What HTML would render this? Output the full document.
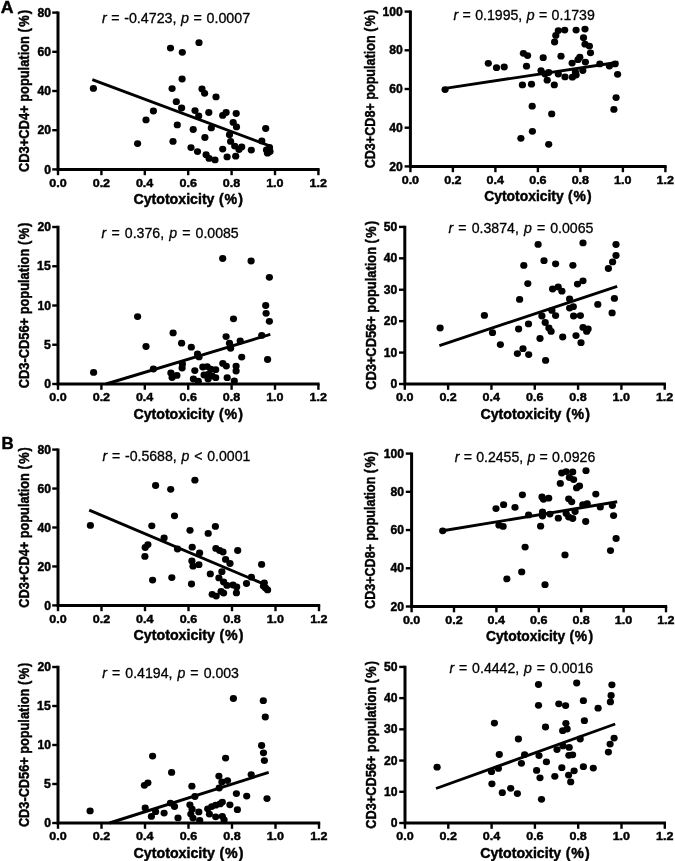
<!DOCTYPE html><html><head><meta charset="utf-8"><style>html,body{margin:0;padding:0;background:#fff;}svg{display:block;filter:grayscale(1)}</style></head><body>
<svg width="675" height="861" viewBox="0 0 675 861" font-family='"Liberation Sans", sans-serif' fill="#000">
<style>text{stroke:#000;stroke-width:0.45px}text.ann{stroke-width:0.3px}</style>
<rect width="675" height="861" fill="#fff"/>
<text transform="translate(0.77,13.40) scale(1.0366,1)" font-size="17.10" font-weight="bold">A</text>
<text transform="translate(1.42,448.50) scale(1.0310,1)" font-size="16.38" font-weight="bold">B</text>
<g id="A1">
<path d="M58.00,11.40 V169.40 H319.60" fill="none" stroke="#000" stroke-width="3.0" stroke-linejoin="miter" stroke-linecap="butt"/>
<line x1="58.00" y1="169.40" x2="58.00" y2="175.20" stroke="#000" stroke-width="2.4"/>
<line x1="101.40" y1="169.40" x2="101.40" y2="175.20" stroke="#000" stroke-width="2.4"/>
<line x1="144.80" y1="169.40" x2="144.80" y2="175.20" stroke="#000" stroke-width="2.4"/>
<line x1="188.20" y1="169.40" x2="188.20" y2="175.20" stroke="#000" stroke-width="2.4"/>
<line x1="231.60" y1="169.40" x2="231.60" y2="175.20" stroke="#000" stroke-width="2.4"/>
<line x1="275.00" y1="169.40" x2="275.00" y2="175.20" stroke="#000" stroke-width="2.4"/>
<line x1="318.40" y1="169.40" x2="318.40" y2="175.20" stroke="#000" stroke-width="2.4"/>
<line x1="58.00" y1="169.40" x2="52.20" y2="169.40" stroke="#000" stroke-width="2.4"/>
<text transform="translate(44.19,173.50) scale(1.0000,1)" font-size="12.14" font-weight="bold">0</text>
<line x1="58.00" y1="130.20" x2="52.20" y2="130.20" stroke="#000" stroke-width="2.4"/>
<text transform="translate(37.39,134.30) scale(1.0000,1)" font-size="12.14" font-weight="bold">20</text>
<line x1="58.00" y1="91.00" x2="52.20" y2="91.00" stroke="#000" stroke-width="2.4"/>
<text transform="translate(37.39,95.10) scale(1.0000,1)" font-size="12.14" font-weight="bold">40</text>
<line x1="58.00" y1="51.80" x2="52.20" y2="51.80" stroke="#000" stroke-width="2.4"/>
<text transform="translate(37.39,55.90) scale(1.0000,1)" font-size="12.14" font-weight="bold">60</text>
<line x1="58.00" y1="12.60" x2="52.20" y2="12.60" stroke="#000" stroke-width="2.4"/>
<text transform="translate(37.39,16.70) scale(1.0000,1)" font-size="12.14" font-weight="bold">80</text>
<text transform="translate(49.29,186.50) scale(1.0700,1)" font-size="11.71" font-weight="bold">0.0</text>
<text transform="translate(92.69,186.50) scale(1.0700,1)" font-size="11.71" font-weight="bold">0.2</text>
<text transform="translate(135.90,186.50) scale(1.0700,1)" font-size="11.71" font-weight="bold">0.4</text>
<text transform="translate(179.49,186.50) scale(1.0700,1)" font-size="11.71" font-weight="bold">0.6</text>
<text transform="translate(222.83,186.50) scale(1.0700,1)" font-size="11.71" font-weight="bold">0.8</text>
<text transform="translate(266.16,186.50) scale(1.0700,1)" font-size="11.71" font-weight="bold">1.0</text>
<text transform="translate(309.56,186.50) scale(1.0700,1)" font-size="11.71" font-weight="bold">1.2</text>
<text transform="translate(133.43,204.00) scale(1.0212,1)" font-size="13.89" font-weight="bold">Cytotoxicity <tspan dx="0.59">(</tspan><tspan dx="0.69">%</tspan><tspan dx="1.27">)</tspan></text>
<text transform="translate(28.90,172.02) rotate(-90) scale(0.9008,1)" font-size="14.31" font-weight="bold">CD3+CD4+ population <tspan dx="0.00">(</tspan><tspan dx="1.67">%</tspan><tspan dx="1.11">)</tspan></text>
<text class="ann" transform="translate(101.90,23.40) scale(1.0200,1)" font-size="14.00" word-spacing="0.60"><tspan font-style="italic">r</tspan> = -0.4723, <tspan font-style="italic">p</tspan> = 0.0007</text>
<line x1="92.3" y1="79.6" x2="269.6" y2="145.9" stroke="#000" stroke-width="2.9"/>
<ellipse cx="93.4" cy="88.4" rx="3.6" ry="3.4"/>
<ellipse cx="170.5" cy="48.1" rx="3.6" ry="3.4"/>
<ellipse cx="182.3" cy="52.3" rx="3.6" ry="3.4"/>
<ellipse cx="182.1" cy="79.0" rx="3.6" ry="3.4"/>
<ellipse cx="172.1" cy="88.6" rx="3.6" ry="3.4"/>
<ellipse cx="199.0" cy="42.7" rx="3.6" ry="3.4"/>
<ellipse cx="202.0" cy="88.9" rx="3.6" ry="3.4"/>
<ellipse cx="204.6" cy="93.3" rx="3.6" ry="3.4"/>
<ellipse cx="216.0" cy="96.9" rx="3.6" ry="3.4"/>
<ellipse cx="176.3" cy="101.7" rx="3.6" ry="3.4"/>
<ellipse cx="181.6" cy="108.0" rx="3.6" ry="3.4"/>
<ellipse cx="153.4" cy="111.0" rx="3.6" ry="3.4"/>
<ellipse cx="146.0" cy="119.9" rx="3.6" ry="3.4"/>
<ellipse cx="177.3" cy="124.9" rx="3.6" ry="3.4"/>
<ellipse cx="137.6" cy="143.6" rx="3.6" ry="3.4"/>
<ellipse cx="173.0" cy="141.4" rx="3.6" ry="3.4"/>
<ellipse cx="195.0" cy="110.6" rx="3.6" ry="3.4"/>
<ellipse cx="198.7" cy="116.0" rx="3.6" ry="3.4"/>
<ellipse cx="208.8" cy="112.5" rx="3.6" ry="3.4"/>
<ellipse cx="222.7" cy="115.4" rx="3.6" ry="3.4"/>
<ellipse cx="226.1" cy="112.5" rx="3.6" ry="3.4"/>
<ellipse cx="236.2" cy="113.5" rx="3.6" ry="3.4"/>
<ellipse cx="233.2" cy="122.4" rx="3.6" ry="3.4"/>
<ellipse cx="236.5" cy="126.9" rx="3.6" ry="3.4"/>
<ellipse cx="193.2" cy="129.5" rx="3.6" ry="3.4"/>
<ellipse cx="211.3" cy="127.9" rx="3.6" ry="3.4"/>
<ellipse cx="265.7" cy="128.5" rx="3.6" ry="3.4"/>
<ellipse cx="204.9" cy="137.5" rx="3.6" ry="3.4"/>
<ellipse cx="229.5" cy="134.7" rx="3.6" ry="3.4"/>
<ellipse cx="230.6" cy="141.4" rx="3.6" ry="3.4"/>
<ellipse cx="191.0" cy="147.6" rx="3.6" ry="3.4"/>
<ellipse cx="197.5" cy="151.6" rx="3.6" ry="3.4"/>
<ellipse cx="206.1" cy="154.7" rx="3.6" ry="3.4"/>
<ellipse cx="209.1" cy="158.4" rx="3.6" ry="3.4"/>
<ellipse cx="215.0" cy="159.9" rx="3.6" ry="3.4"/>
<ellipse cx="222.7" cy="149.1" rx="3.6" ry="3.4"/>
<ellipse cx="227.1" cy="156.9" rx="3.6" ry="3.4"/>
<ellipse cx="235.7" cy="156.2" rx="3.6" ry="3.4"/>
<ellipse cx="234.7" cy="146.1" rx="3.6" ry="3.4"/>
<ellipse cx="241.7" cy="146.9" rx="3.6" ry="3.4"/>
<ellipse cx="239.0" cy="149.5" rx="3.6" ry="3.4"/>
<ellipse cx="251.3" cy="150.1" rx="3.6" ry="3.4"/>
<ellipse cx="261.8" cy="140.9" rx="3.6" ry="3.4"/>
<ellipse cx="269.5" cy="147.5" rx="3.6" ry="3.4"/>
<ellipse cx="266.5" cy="150.0" rx="3.6" ry="3.4"/>
<ellipse cx="270.0" cy="151.5" rx="3.6" ry="3.4"/>
<ellipse cx="267.5" cy="153.2" rx="3.6" ry="3.4"/>
</g>
<g id="A2">
<path d="M410.40,10.40 V166.40 H666.60" fill="none" stroke="#000" stroke-width="3.0" stroke-linejoin="miter" stroke-linecap="butt"/>
<line x1="410.40" y1="166.40" x2="410.40" y2="172.20" stroke="#000" stroke-width="2.4"/>
<line x1="452.90" y1="166.40" x2="452.90" y2="172.20" stroke="#000" stroke-width="2.4"/>
<line x1="495.40" y1="166.40" x2="495.40" y2="172.20" stroke="#000" stroke-width="2.4"/>
<line x1="537.90" y1="166.40" x2="537.90" y2="172.20" stroke="#000" stroke-width="2.4"/>
<line x1="580.40" y1="166.40" x2="580.40" y2="172.20" stroke="#000" stroke-width="2.4"/>
<line x1="622.90" y1="166.40" x2="622.90" y2="172.20" stroke="#000" stroke-width="2.4"/>
<line x1="665.40" y1="166.40" x2="665.40" y2="172.20" stroke="#000" stroke-width="2.4"/>
<line x1="410.40" y1="166.40" x2="404.60" y2="166.40" stroke="#000" stroke-width="2.4"/>
<text transform="translate(389.29,170.50) scale(1.0000,1)" font-size="12.14" font-weight="bold">20</text>
<line x1="410.40" y1="127.70" x2="404.60" y2="127.70" stroke="#000" stroke-width="2.4"/>
<text transform="translate(389.29,131.80) scale(1.0000,1)" font-size="12.14" font-weight="bold">40</text>
<line x1="410.40" y1="89.00" x2="404.60" y2="89.00" stroke="#000" stroke-width="2.4"/>
<text transform="translate(389.29,93.10) scale(1.0000,1)" font-size="12.14" font-weight="bold">60</text>
<line x1="410.40" y1="50.30" x2="404.60" y2="50.30" stroke="#000" stroke-width="2.4"/>
<text transform="translate(389.29,54.40) scale(1.0000,1)" font-size="12.14" font-weight="bold">80</text>
<line x1="410.40" y1="11.60" x2="404.60" y2="11.60" stroke="#000" stroke-width="2.4"/>
<text transform="translate(382.61,15.70) scale(1.0000,1)" font-size="12.14" font-weight="bold">100</text>
<text transform="translate(401.69,183.50) scale(1.0700,1)" font-size="11.71" font-weight="bold">0.0</text>
<text transform="translate(444.19,183.50) scale(1.0700,1)" font-size="11.71" font-weight="bold">0.2</text>
<text transform="translate(486.50,183.50) scale(1.0700,1)" font-size="11.71" font-weight="bold">0.4</text>
<text transform="translate(529.19,183.50) scale(1.0700,1)" font-size="11.71" font-weight="bold">0.6</text>
<text transform="translate(571.63,183.50) scale(1.0700,1)" font-size="11.71" font-weight="bold">0.8</text>
<text transform="translate(614.06,183.50) scale(1.0700,1)" font-size="11.71" font-weight="bold">1.0</text>
<text transform="translate(656.56,183.50) scale(1.0700,1)" font-size="11.71" font-weight="bold">1.2</text>
<text transform="translate(484.27,201.00) scale(0.9995,1)" font-size="13.89" font-weight="bold">Cytotoxicity <tspan dx="0.60">(</tspan><tspan dx="0.70">%</tspan><tspan dx="1.30">)</tspan></text>
<text transform="translate(375.00,168.35) rotate(-90) scale(0.9085,1)" font-size="13.89" font-weight="bold">CD3+CD8+ population <tspan dx="0.00">(</tspan><tspan dx="1.65">%</tspan><tspan dx="1.10">)</tspan></text>
<text class="ann" transform="translate(453.41,20.20) scale(1.0200,1)" font-size="13.86" word-spacing="0.47"><tspan font-style="italic">r</tspan> = 0.1995, <tspan font-style="italic">p</tspan> = 0.1739</text>
<line x1="445.1" y1="88.4" x2="618.3" y2="62.2" stroke="#000" stroke-width="2.9"/>
<ellipse cx="445.1" cy="89.6" rx="3.6" ry="3.4"/>
<ellipse cx="488.3" cy="63.3" rx="3.6" ry="3.4"/>
<ellipse cx="496.5" cy="67.7" rx="3.6" ry="3.4"/>
<ellipse cx="504.2" cy="67.0" rx="3.6" ry="3.4"/>
<ellipse cx="523.4" cy="53.3" rx="3.6" ry="3.4"/>
<ellipse cx="527.6" cy="55.6" rx="3.6" ry="3.4"/>
<ellipse cx="526.5" cy="66.2" rx="3.6" ry="3.4"/>
<ellipse cx="522.4" cy="84.9" rx="3.6" ry="3.4"/>
<ellipse cx="531.5" cy="84.2" rx="3.6" ry="3.4"/>
<ellipse cx="558.3" cy="30.6" rx="3.6" ry="3.4"/>
<ellipse cx="564.7" cy="30.1" rx="3.6" ry="3.4"/>
<ellipse cx="555.8" cy="35.4" rx="3.6" ry="3.4"/>
<ellipse cx="554.6" cy="42.0" rx="3.6" ry="3.4"/>
<ellipse cx="576.1" cy="30.1" rx="3.6" ry="3.4"/>
<ellipse cx="585.0" cy="29.1" rx="3.6" ry="3.4"/>
<ellipse cx="583.5" cy="37.7" rx="3.6" ry="3.4"/>
<ellipse cx="585.0" cy="44.2" rx="3.6" ry="3.4"/>
<ellipse cx="589.4" cy="46.1" rx="3.6" ry="3.4"/>
<ellipse cx="590.5" cy="52.8" rx="3.6" ry="3.4"/>
<ellipse cx="543.2" cy="57.7" rx="3.6" ry="3.4"/>
<ellipse cx="561.0" cy="56.2" rx="3.6" ry="3.4"/>
<ellipse cx="579.8" cy="57.2" rx="3.6" ry="3.4"/>
<ellipse cx="578.0" cy="59.7" rx="3.6" ry="3.4"/>
<ellipse cx="572.1" cy="63.1" rx="3.6" ry="3.4"/>
<ellipse cx="585.4" cy="62.1" rx="3.6" ry="3.4"/>
<ellipse cx="599.8" cy="63.9" rx="3.6" ry="3.4"/>
<ellipse cx="609.4" cy="66.1" rx="3.6" ry="3.4"/>
<ellipse cx="615.1" cy="63.9" rx="3.6" ry="3.4"/>
<ellipse cx="617.6" cy="74.3" rx="3.6" ry="3.4"/>
<ellipse cx="541.0" cy="70.6" rx="3.6" ry="3.4"/>
<ellipse cx="545.0" cy="74.0" rx="3.6" ry="3.4"/>
<ellipse cx="548.7" cy="72.5" rx="3.6" ry="3.4"/>
<ellipse cx="547.2" cy="80.2" rx="3.6" ry="3.4"/>
<ellipse cx="554.3" cy="84.9" rx="3.6" ry="3.4"/>
<ellipse cx="558.3" cy="74.0" rx="3.6" ry="3.4"/>
<ellipse cx="565.0" cy="76.9" rx="3.6" ry="3.4"/>
<ellipse cx="572.4" cy="77.2" rx="3.6" ry="3.4"/>
<ellipse cx="576.1" cy="75.0" rx="3.6" ry="3.4"/>
<ellipse cx="575.4" cy="72.0" rx="3.6" ry="3.4"/>
<ellipse cx="582.8" cy="70.6" rx="3.6" ry="3.4"/>
<ellipse cx="532.2" cy="106.2" rx="3.6" ry="3.4"/>
<ellipse cx="532.4" cy="131.3" rx="3.6" ry="3.4"/>
<ellipse cx="520.9" cy="138.3" rx="3.6" ry="3.4"/>
<ellipse cx="551.7" cy="113.9" rx="3.6" ry="3.4"/>
<ellipse cx="548.7" cy="144.3" rx="3.6" ry="3.4"/>
<ellipse cx="616.1" cy="97.6" rx="3.6" ry="3.4"/>
<ellipse cx="613.9" cy="109.4" rx="3.6" ry="3.4"/>
</g>
<g id="A3">
<path d="M58.00,225.80 V384.00 H319.60" fill="none" stroke="#000" stroke-width="3.0" stroke-linejoin="miter" stroke-linecap="butt"/>
<line x1="58.00" y1="384.00" x2="58.00" y2="389.80" stroke="#000" stroke-width="2.4"/>
<line x1="101.40" y1="384.00" x2="101.40" y2="389.80" stroke="#000" stroke-width="2.4"/>
<line x1="144.80" y1="384.00" x2="144.80" y2="389.80" stroke="#000" stroke-width="2.4"/>
<line x1="188.20" y1="384.00" x2="188.20" y2="389.80" stroke="#000" stroke-width="2.4"/>
<line x1="231.60" y1="384.00" x2="231.60" y2="389.80" stroke="#000" stroke-width="2.4"/>
<line x1="275.00" y1="384.00" x2="275.00" y2="389.80" stroke="#000" stroke-width="2.4"/>
<line x1="318.40" y1="384.00" x2="318.40" y2="389.80" stroke="#000" stroke-width="2.4"/>
<line x1="58.00" y1="384.00" x2="52.20" y2="384.00" stroke="#000" stroke-width="2.4"/>
<text transform="translate(44.19,388.10) scale(1.0000,1)" font-size="12.14" font-weight="bold">0</text>
<line x1="58.00" y1="344.75" x2="52.20" y2="344.75" stroke="#000" stroke-width="2.4"/>
<text transform="translate(43.97,348.85) scale(1.0000,1)" font-size="12.32" font-weight="bold">5</text>
<line x1="58.00" y1="305.50" x2="52.20" y2="305.50" stroke="#000" stroke-width="2.4"/>
<text transform="translate(37.39,309.60) scale(1.0000,1)" font-size="12.14" font-weight="bold">10</text>
<line x1="58.00" y1="266.25" x2="52.20" y2="266.25" stroke="#000" stroke-width="2.4"/>
<text transform="translate(37.07,270.35) scale(1.0000,1)" font-size="12.32" font-weight="bold">15</text>
<line x1="58.00" y1="227.00" x2="52.20" y2="227.00" stroke="#000" stroke-width="2.4"/>
<text transform="translate(37.39,231.10) scale(1.0000,1)" font-size="12.14" font-weight="bold">20</text>
<text transform="translate(49.29,401.10) scale(1.0700,1)" font-size="11.71" font-weight="bold">0.0</text>
<text transform="translate(92.69,401.10) scale(1.0700,1)" font-size="11.71" font-weight="bold">0.2</text>
<text transform="translate(135.90,401.10) scale(1.0700,1)" font-size="11.71" font-weight="bold">0.4</text>
<text transform="translate(179.49,401.10) scale(1.0700,1)" font-size="11.71" font-weight="bold">0.6</text>
<text transform="translate(222.83,401.10) scale(1.0700,1)" font-size="11.71" font-weight="bold">0.8</text>
<text transform="translate(266.16,401.10) scale(1.0700,1)" font-size="11.71" font-weight="bold">1.0</text>
<text transform="translate(309.56,401.10) scale(1.0700,1)" font-size="11.71" font-weight="bold">1.2</text>
<text transform="translate(133.43,418.60) scale(1.0212,1)" font-size="13.89" font-weight="bold">Cytotoxicity <tspan dx="0.59">(</tspan><tspan dx="0.69">%</tspan><tspan dx="1.27">)</tspan></text>
<text transform="translate(28.90,388.31) rotate(-90) scale(0.8993,1)" font-size="14.31" font-weight="bold">CD3-CD56+ population <tspan dx="0.00">(</tspan><tspan dx="1.67">%</tspan><tspan dx="1.11">)</tspan></text>
<text class="ann" transform="translate(101.61,237.90) scale(1.0200,1)" font-size="13.86" word-spacing="1.17"><tspan font-style="italic">r</tspan> = 0.376, <tspan font-style="italic">p</tspan> = 0.0085</text>
<line x1="106.1" y1="384.0" x2="270.3" y2="334.4" stroke="#000" stroke-width="2.9"/>
<ellipse cx="93.6" cy="372.4" rx="3.6" ry="3.4"/>
<ellipse cx="137.6" cy="316.6" rx="3.6" ry="3.4"/>
<ellipse cx="146.0" cy="346.5" rx="3.6" ry="3.4"/>
<ellipse cx="153.4" cy="369.0" rx="3.6" ry="3.4"/>
<ellipse cx="170.9" cy="372.9" rx="3.6" ry="3.4"/>
<ellipse cx="176.9" cy="375.4" rx="3.6" ry="3.4"/>
<ellipse cx="172.1" cy="377.6" rx="3.6" ry="3.4"/>
<ellipse cx="182.4" cy="364.0" rx="3.6" ry="3.4"/>
<ellipse cx="182.1" cy="368.0" rx="3.6" ry="3.4"/>
<ellipse cx="173.1" cy="332.9" rx="3.6" ry="3.4"/>
<ellipse cx="181.6" cy="343.2" rx="3.6" ry="3.4"/>
<ellipse cx="191.3" cy="347.2" rx="3.6" ry="3.4"/>
<ellipse cx="197.5" cy="353.9" rx="3.6" ry="3.4"/>
<ellipse cx="199.0" cy="356.9" rx="3.6" ry="3.4"/>
<ellipse cx="226.1" cy="336.6" rx="3.6" ry="3.4"/>
<ellipse cx="229.5" cy="343.2" rx="3.6" ry="3.4"/>
<ellipse cx="230.6" cy="348.3" rx="3.6" ry="3.4"/>
<ellipse cx="240.2" cy="341.0" rx="3.6" ry="3.4"/>
<ellipse cx="261.7" cy="335.4" rx="3.6" ry="3.4"/>
<ellipse cx="241.7" cy="357.1" rx="3.6" ry="3.4"/>
<ellipse cx="267.6" cy="359.5" rx="3.6" ry="3.4"/>
<ellipse cx="222.7" cy="258.5" rx="3.6" ry="3.4"/>
<ellipse cx="251.1" cy="261.0" rx="3.6" ry="3.4"/>
<ellipse cx="269.4" cy="277.3" rx="3.6" ry="3.4"/>
<ellipse cx="265.7" cy="305.5" rx="3.6" ry="3.4"/>
<ellipse cx="266.1" cy="313.3" rx="3.6" ry="3.4"/>
<ellipse cx="269.4" cy="321.3" rx="3.6" ry="3.4"/>
<ellipse cx="233.5" cy="318.8" rx="3.6" ry="3.4"/>
<ellipse cx="194.8" cy="370.6" rx="3.6" ry="3.4"/>
<ellipse cx="193.4" cy="379.0" rx="3.6" ry="3.4"/>
<ellipse cx="198.3" cy="381.2" rx="3.6" ry="3.4"/>
<ellipse cx="202.8" cy="367.0" rx="3.6" ry="3.4"/>
<ellipse cx="207.2" cy="366.6" rx="3.6" ry="3.4"/>
<ellipse cx="210.8" cy="369.2" rx="3.6" ry="3.4"/>
<ellipse cx="215.7" cy="369.7" rx="3.6" ry="3.4"/>
<ellipse cx="204.1" cy="375.0" rx="3.6" ry="3.4"/>
<ellipse cx="208.6" cy="374.1" rx="3.6" ry="3.4"/>
<ellipse cx="208.1" cy="379.0" rx="3.6" ry="3.4"/>
<ellipse cx="212.1" cy="375.9" rx="3.6" ry="3.4"/>
<ellipse cx="215.7" cy="377.7" rx="3.6" ry="3.4"/>
<ellipse cx="222.8" cy="363.4" rx="3.6" ry="3.4"/>
<ellipse cx="226.3" cy="366.1" rx="3.6" ry="3.4"/>
<ellipse cx="227.2" cy="377.7" rx="3.6" ry="3.4"/>
<ellipse cx="236.1" cy="366.1" rx="3.6" ry="3.4"/>
<ellipse cx="236.1" cy="371.0" rx="3.6" ry="3.4"/>
<ellipse cx="234.3" cy="380.8" rx="3.6" ry="3.4"/>
</g>
<g id="A4">
<path d="M404.80,225.70 V384.00 H665.92" fill="none" stroke="#000" stroke-width="3.0" stroke-linejoin="miter" stroke-linecap="butt"/>
<line x1="404.80" y1="384.00" x2="404.80" y2="389.80" stroke="#000" stroke-width="2.4"/>
<line x1="448.12" y1="384.00" x2="448.12" y2="389.80" stroke="#000" stroke-width="2.4"/>
<line x1="491.44" y1="384.00" x2="491.44" y2="389.80" stroke="#000" stroke-width="2.4"/>
<line x1="534.76" y1="384.00" x2="534.76" y2="389.80" stroke="#000" stroke-width="2.4"/>
<line x1="578.08" y1="384.00" x2="578.08" y2="389.80" stroke="#000" stroke-width="2.4"/>
<line x1="621.40" y1="384.00" x2="621.40" y2="389.80" stroke="#000" stroke-width="2.4"/>
<line x1="664.72" y1="384.00" x2="664.72" y2="389.80" stroke="#000" stroke-width="2.4"/>
<line x1="404.80" y1="384.00" x2="399.00" y2="384.00" stroke="#000" stroke-width="2.4"/>
<text transform="translate(390.49,388.10) scale(1.0000,1)" font-size="12.14" font-weight="bold">0</text>
<line x1="404.80" y1="352.58" x2="399.00" y2="352.58" stroke="#000" stroke-width="2.4"/>
<text transform="translate(383.69,356.68) scale(1.0000,1)" font-size="12.14" font-weight="bold">10</text>
<line x1="404.80" y1="321.16" x2="399.00" y2="321.16" stroke="#000" stroke-width="2.4"/>
<text transform="translate(383.69,325.26) scale(1.0000,1)" font-size="12.14" font-weight="bold">20</text>
<line x1="404.80" y1="289.74" x2="399.00" y2="289.74" stroke="#000" stroke-width="2.4"/>
<text transform="translate(383.69,293.84) scale(1.0000,1)" font-size="12.14" font-weight="bold">30</text>
<line x1="404.80" y1="258.32" x2="399.00" y2="258.32" stroke="#000" stroke-width="2.4"/>
<text transform="translate(383.69,262.42) scale(1.0000,1)" font-size="12.14" font-weight="bold">40</text>
<line x1="404.80" y1="226.90" x2="399.00" y2="226.90" stroke="#000" stroke-width="2.4"/>
<text transform="translate(383.69,231.00) scale(1.0000,1)" font-size="12.14" font-weight="bold">50</text>
<text transform="translate(396.09,401.10) scale(1.0700,1)" font-size="11.71" font-weight="bold">0.0</text>
<text transform="translate(439.41,401.10) scale(1.0700,1)" font-size="11.71" font-weight="bold">0.2</text>
<text transform="translate(482.54,401.10) scale(1.0700,1)" font-size="11.71" font-weight="bold">0.4</text>
<text transform="translate(526.05,401.10) scale(1.0700,1)" font-size="11.71" font-weight="bold">0.6</text>
<text transform="translate(569.31,401.10) scale(1.0700,1)" font-size="11.71" font-weight="bold">0.8</text>
<text transform="translate(612.56,401.10) scale(1.0700,1)" font-size="11.71" font-weight="bold">1.0</text>
<text transform="translate(655.88,401.10) scale(1.0700,1)" font-size="11.71" font-weight="bold">1.2</text>
<text transform="translate(480.49,418.60) scale(1.0192,1)" font-size="13.89" font-weight="bold">Cytotoxicity <tspan dx="0.59">(</tspan><tspan dx="0.69">%</tspan><tspan dx="1.28">)</tspan></text>
<text transform="translate(375.60,389.86) rotate(-90) scale(0.8992,1)" font-size="14.31" font-weight="bold">CD3+CD56+ population <tspan dx="0.00">(</tspan><tspan dx="1.67">%</tspan><tspan dx="1.11">)</tspan></text>
<text class="ann" transform="translate(448.51,232.50) scale(1.0200,1)" font-size="13.86" word-spacing="1.16"><tspan font-style="italic">r</tspan> = 0.3874, <tspan font-style="italic">p</tspan> = 0.0065</text>
<line x1="439.4" y1="345.6" x2="617.2" y2="286.3" stroke="#000" stroke-width="2.9"/>
<ellipse cx="440.1" cy="328.0" rx="3.6" ry="3.4"/>
<ellipse cx="484.4" cy="315.4" rx="3.6" ry="3.4"/>
<ellipse cx="492.5" cy="332.7" rx="3.6" ry="3.4"/>
<ellipse cx="500.4" cy="344.6" rx="3.6" ry="3.4"/>
<ellipse cx="518.6" cy="329.0" rx="3.6" ry="3.4"/>
<ellipse cx="523.0" cy="348.7" rx="3.6" ry="3.4"/>
<ellipse cx="517.4" cy="353.6" rx="3.6" ry="3.4"/>
<ellipse cx="528.7" cy="354.6" rx="3.6" ry="3.4"/>
<ellipse cx="523.8" cy="265.4" rx="3.6" ry="3.4"/>
<ellipse cx="527.8" cy="283.6" rx="3.6" ry="3.4"/>
<ellipse cx="519.6" cy="299.4" rx="3.6" ry="3.4"/>
<ellipse cx="528.5" cy="323.9" rx="3.6" ry="3.4"/>
<ellipse cx="538.1" cy="244.4" rx="3.6" ry="3.4"/>
<ellipse cx="583.0" cy="242.9" rx="3.6" ry="3.4"/>
<ellipse cx="616.0" cy="244.5" rx="3.6" ry="3.4"/>
<ellipse cx="616.0" cy="255.5" rx="3.6" ry="3.4"/>
<ellipse cx="612.6" cy="261.9" rx="3.6" ry="3.4"/>
<ellipse cx="608.4" cy="268.5" rx="3.6" ry="3.4"/>
<ellipse cx="544.0" cy="260.7" rx="3.6" ry="3.4"/>
<ellipse cx="555.6" cy="263.8" rx="3.6" ry="3.4"/>
<ellipse cx="572.9" cy="265.3" rx="3.6" ry="3.4"/>
<ellipse cx="552.6" cy="289.0" rx="3.6" ry="3.4"/>
<ellipse cx="558.2" cy="287.0" rx="3.6" ry="3.4"/>
<ellipse cx="561.9" cy="291.2" rx="3.6" ry="3.4"/>
<ellipse cx="577.5" cy="284.1" rx="3.6" ry="3.4"/>
<ellipse cx="583.0" cy="280.8" rx="3.6" ry="3.4"/>
<ellipse cx="569.6" cy="298.9" rx="3.6" ry="3.4"/>
<ellipse cx="597.8" cy="304.4" rx="3.6" ry="3.4"/>
<ellipse cx="614.4" cy="298.4" rx="3.6" ry="3.4"/>
<ellipse cx="612.1" cy="312.9" rx="3.6" ry="3.4"/>
<ellipse cx="569.6" cy="308.1" rx="3.6" ry="3.4"/>
<ellipse cx="573.3" cy="306.7" rx="3.6" ry="3.4"/>
<ellipse cx="551.9" cy="310.4" rx="3.6" ry="3.4"/>
<ellipse cx="555.6" cy="315.6" rx="3.6" ry="3.4"/>
<ellipse cx="541.9" cy="316.0" rx="3.6" ry="3.4"/>
<ellipse cx="545.2" cy="322.5" rx="3.6" ry="3.4"/>
<ellipse cx="548.9" cy="327.9" rx="3.6" ry="3.4"/>
<ellipse cx="551.1" cy="331.4" rx="3.6" ry="3.4"/>
<ellipse cx="573.6" cy="316.0" rx="3.6" ry="3.4"/>
<ellipse cx="580.4" cy="315.6" rx="3.6" ry="3.4"/>
<ellipse cx="583.0" cy="327.4" rx="3.6" ry="3.4"/>
<ellipse cx="588.1" cy="328.9" rx="3.6" ry="3.4"/>
<ellipse cx="586.7" cy="331.4" rx="3.6" ry="3.4"/>
<ellipse cx="540.0" cy="338.5" rx="3.6" ry="3.4"/>
<ellipse cx="562.7" cy="337.0" rx="3.6" ry="3.4"/>
<ellipse cx="576.0" cy="335.6" rx="3.6" ry="3.4"/>
<ellipse cx="581.0" cy="342.7" rx="3.6" ry="3.4"/>
<ellipse cx="545.6" cy="360.4" rx="3.6" ry="3.4"/>
</g>
<g id="B1">
<path d="M58.00,448.40 V605.40 H320.20" fill="none" stroke="#000" stroke-width="3.0" stroke-linejoin="miter" stroke-linecap="butt"/>
<line x1="58.00" y1="605.40" x2="58.00" y2="611.20" stroke="#000" stroke-width="2.4"/>
<line x1="101.50" y1="605.40" x2="101.50" y2="611.20" stroke="#000" stroke-width="2.4"/>
<line x1="145.00" y1="605.40" x2="145.00" y2="611.20" stroke="#000" stroke-width="2.4"/>
<line x1="188.50" y1="605.40" x2="188.50" y2="611.20" stroke="#000" stroke-width="2.4"/>
<line x1="232.00" y1="605.40" x2="232.00" y2="611.20" stroke="#000" stroke-width="2.4"/>
<line x1="275.50" y1="605.40" x2="275.50" y2="611.20" stroke="#000" stroke-width="2.4"/>
<line x1="319.00" y1="605.40" x2="319.00" y2="611.20" stroke="#000" stroke-width="2.4"/>
<line x1="58.00" y1="605.40" x2="52.20" y2="605.40" stroke="#000" stroke-width="2.4"/>
<text transform="translate(44.19,609.50) scale(1.0000,1)" font-size="12.14" font-weight="bold">0</text>
<line x1="58.00" y1="566.45" x2="52.20" y2="566.45" stroke="#000" stroke-width="2.4"/>
<text transform="translate(37.39,570.55) scale(1.0000,1)" font-size="12.14" font-weight="bold">20</text>
<line x1="58.00" y1="527.50" x2="52.20" y2="527.50" stroke="#000" stroke-width="2.4"/>
<text transform="translate(37.39,531.60) scale(1.0000,1)" font-size="12.14" font-weight="bold">40</text>
<line x1="58.00" y1="488.55" x2="52.20" y2="488.55" stroke="#000" stroke-width="2.4"/>
<text transform="translate(37.39,492.65) scale(1.0000,1)" font-size="12.14" font-weight="bold">60</text>
<line x1="58.00" y1="449.60" x2="52.20" y2="449.60" stroke="#000" stroke-width="2.4"/>
<text transform="translate(37.39,453.70) scale(1.0000,1)" font-size="12.14" font-weight="bold">80</text>
<text transform="translate(49.29,622.50) scale(1.0700,1)" font-size="11.71" font-weight="bold">0.0</text>
<text transform="translate(92.79,622.50) scale(1.0700,1)" font-size="11.71" font-weight="bold">0.2</text>
<text transform="translate(136.10,622.50) scale(1.0700,1)" font-size="11.71" font-weight="bold">0.4</text>
<text transform="translate(179.79,622.50) scale(1.0700,1)" font-size="11.71" font-weight="bold">0.6</text>
<text transform="translate(223.23,622.50) scale(1.0700,1)" font-size="11.71" font-weight="bold">0.8</text>
<text transform="translate(266.66,622.50) scale(1.0700,1)" font-size="11.71" font-weight="bold">1.0</text>
<text transform="translate(310.16,622.50) scale(1.0700,1)" font-size="11.71" font-weight="bold">1.2</text>
<text transform="translate(133.60,640.00) scale(1.0236,1)" font-size="13.89" font-weight="bold">Cytotoxicity <tspan dx="0.59">(</tspan><tspan dx="0.68">%</tspan><tspan dx="1.27">)</tspan></text>
<text transform="translate(28.90,607.76) rotate(-90) scale(0.8923,1)" font-size="14.31" font-weight="bold">CD3+CD4+ population <tspan dx="0.00">(</tspan><tspan dx="1.68">%</tspan><tspan dx="1.12">)</tspan></text>
<text class="ann" transform="translate(102.41,460.80) scale(1.0200,1)" font-size="13.86" word-spacing="0.84"><tspan font-style="italic">r</tspan> = -0.5688, <tspan font-style="italic">p</tspan> < 0.0001</text>
<line x1="89.2" y1="510.1" x2="266.5" y2="585.2" stroke="#000" stroke-width="2.9"/>
<ellipse cx="90.4" cy="525.4" rx="3.6" ry="3.4"/>
<ellipse cx="155.6" cy="485.5" rx="3.6" ry="3.4"/>
<ellipse cx="170.7" cy="489.3" rx="3.6" ry="3.4"/>
<ellipse cx="174.5" cy="515.8" rx="3.6" ry="3.4"/>
<ellipse cx="151.8" cy="525.8" rx="3.6" ry="3.4"/>
<ellipse cx="164.1" cy="537.9" rx="3.6" ry="3.4"/>
<ellipse cx="194.9" cy="480.2" rx="3.6" ry="3.4"/>
<ellipse cx="190.0" cy="530.3" rx="3.6" ry="3.4"/>
<ellipse cx="208.2" cy="533.4" rx="3.6" ry="3.4"/>
<ellipse cx="215.4" cy="526.4" rx="3.6" ry="3.4"/>
<ellipse cx="177.5" cy="549.0" rx="3.6" ry="3.4"/>
<ellipse cx="147.9" cy="544.6" rx="3.6" ry="3.4"/>
<ellipse cx="145.2" cy="547.5" rx="3.6" ry="3.4"/>
<ellipse cx="144.9" cy="556.4" rx="3.6" ry="3.4"/>
<ellipse cx="152.6" cy="580.1" rx="3.6" ry="3.4"/>
<ellipse cx="171.8" cy="577.6" rx="3.6" ry="3.4"/>
<ellipse cx="192.2" cy="547.2" rx="3.6" ry="3.4"/>
<ellipse cx="199.6" cy="552.9" rx="3.6" ry="3.4"/>
<ellipse cx="191.9" cy="560.9" rx="3.6" ry="3.4"/>
<ellipse cx="193.0" cy="566.2" rx="3.6" ry="3.4"/>
<ellipse cx="198.9" cy="564.7" rx="3.6" ry="3.4"/>
<ellipse cx="215.9" cy="548.4" rx="3.6" ry="3.4"/>
<ellipse cx="219.6" cy="550.5" rx="3.6" ry="3.4"/>
<ellipse cx="223.0" cy="552.0" rx="3.6" ry="3.4"/>
<ellipse cx="237.7" cy="550.5" rx="3.6" ry="3.4"/>
<ellipse cx="225.6" cy="559.4" rx="3.6" ry="3.4"/>
<ellipse cx="230.0" cy="563.5" rx="3.6" ry="3.4"/>
<ellipse cx="261.6" cy="564.4" rx="3.6" ry="3.4"/>
<ellipse cx="221.9" cy="571.7" rx="3.6" ry="3.4"/>
<ellipse cx="210.3" cy="573.9" rx="3.6" ry="3.4"/>
<ellipse cx="218.9" cy="577.9" rx="3.6" ry="3.4"/>
<ellipse cx="191.5" cy="584.0" rx="3.6" ry="3.4"/>
<ellipse cx="223.6" cy="582.0" rx="3.6" ry="3.4"/>
<ellipse cx="227.0" cy="585.4" rx="3.6" ry="3.4"/>
<ellipse cx="233.0" cy="585.0" rx="3.6" ry="3.4"/>
<ellipse cx="236.7" cy="586.9" rx="3.6" ry="3.4"/>
<ellipse cx="236.4" cy="592.9" rx="3.6" ry="3.4"/>
<ellipse cx="246.5" cy="583.5" rx="3.6" ry="3.4"/>
<ellipse cx="251.4" cy="577.2" rx="3.6" ry="3.4"/>
<ellipse cx="221.1" cy="591.4" rx="3.6" ry="3.4"/>
<ellipse cx="223.6" cy="593.1" rx="3.6" ry="3.4"/>
<ellipse cx="212.2" cy="594.3" rx="3.6" ry="3.4"/>
<ellipse cx="216.2" cy="596.1" rx="3.6" ry="3.4"/>
<ellipse cx="264.3" cy="582.8" rx="3.6" ry="3.4"/>
<ellipse cx="263.4" cy="586.1" rx="3.6" ry="3.4"/>
<ellipse cx="265.5" cy="587.9" rx="3.6" ry="3.4"/>
<ellipse cx="267.6" cy="589.9" rx="3.6" ry="3.4"/>
</g>
<g id="B2">
<path d="M411.60,452.40 V606.50 H667.20" fill="none" stroke="#000" stroke-width="3.0" stroke-linejoin="miter" stroke-linecap="butt"/>
<line x1="411.60" y1="606.50" x2="411.60" y2="612.30" stroke="#000" stroke-width="2.4"/>
<line x1="454.00" y1="606.50" x2="454.00" y2="612.30" stroke="#000" stroke-width="2.4"/>
<line x1="496.40" y1="606.50" x2="496.40" y2="612.30" stroke="#000" stroke-width="2.4"/>
<line x1="538.80" y1="606.50" x2="538.80" y2="612.30" stroke="#000" stroke-width="2.4"/>
<line x1="581.20" y1="606.50" x2="581.20" y2="612.30" stroke="#000" stroke-width="2.4"/>
<line x1="623.60" y1="606.50" x2="623.60" y2="612.30" stroke="#000" stroke-width="2.4"/>
<line x1="666.00" y1="606.50" x2="666.00" y2="612.30" stroke="#000" stroke-width="2.4"/>
<line x1="411.60" y1="606.50" x2="405.80" y2="606.50" stroke="#000" stroke-width="2.4"/>
<text transform="translate(390.49,610.60) scale(1.0000,1)" font-size="12.14" font-weight="bold">20</text>
<line x1="411.60" y1="568.27" x2="405.80" y2="568.27" stroke="#000" stroke-width="2.4"/>
<text transform="translate(390.49,572.38) scale(1.0000,1)" font-size="12.14" font-weight="bold">40</text>
<line x1="411.60" y1="530.05" x2="405.80" y2="530.05" stroke="#000" stroke-width="2.4"/>
<text transform="translate(390.49,534.15) scale(1.0000,1)" font-size="12.14" font-weight="bold">60</text>
<line x1="411.60" y1="491.83" x2="405.80" y2="491.83" stroke="#000" stroke-width="2.4"/>
<text transform="translate(390.49,495.93) scale(1.0000,1)" font-size="12.14" font-weight="bold">80</text>
<line x1="411.60" y1="453.60" x2="405.80" y2="453.60" stroke="#000" stroke-width="2.4"/>
<text transform="translate(383.81,457.70) scale(1.0000,1)" font-size="12.14" font-weight="bold">100</text>
<text transform="translate(402.89,623.60) scale(1.0700,1)" font-size="11.71" font-weight="bold">0.0</text>
<text transform="translate(445.29,623.60) scale(1.0700,1)" font-size="11.71" font-weight="bold">0.2</text>
<text transform="translate(487.50,623.60) scale(1.0700,1)" font-size="11.71" font-weight="bold">0.4</text>
<text transform="translate(530.09,623.60) scale(1.0700,1)" font-size="11.71" font-weight="bold">0.6</text>
<text transform="translate(572.43,623.60) scale(1.0700,1)" font-size="11.71" font-weight="bold">0.8</text>
<text transform="translate(614.76,623.60) scale(1.0700,1)" font-size="11.71" font-weight="bold">1.0</text>
<text transform="translate(657.16,623.60) scale(1.0700,1)" font-size="11.71" font-weight="bold">1.2</text>
<text transform="translate(485.89,641.10) scale(0.9971,1)" font-size="13.89" font-weight="bold">Cytotoxicity <tspan dx="0.60">(</tspan><tspan dx="0.70">%</tspan><tspan dx="1.30">)</tspan></text>
<text transform="translate(375.00,608.80) rotate(-90) scale(0.9015,1)" font-size="13.89" font-weight="bold">CD3+CD8+ population <tspan dx="0.00">(</tspan><tspan dx="1.66">%</tspan><tspan dx="1.11">)</tspan></text>
<text class="ann" transform="translate(454.71,461.50) scale(1.0200,1)" font-size="13.86" word-spacing="0.30"><tspan font-style="italic">r</tspan> = 0.2455, <tspan font-style="italic">p</tspan> = 0.0926</text>
<line x1="442.7" y1="530.8" x2="617.2" y2="501.8" stroke="#000" stroke-width="2.9"/>
<ellipse cx="442.7" cy="530.8" rx="3.6" ry="3.4"/>
<ellipse cx="496.0" cy="508.6" rx="3.6" ry="3.4"/>
<ellipse cx="503.6" cy="504.7" rx="3.6" ry="3.4"/>
<ellipse cx="515.0" cy="507.4" rx="3.6" ry="3.4"/>
<ellipse cx="522.4" cy="494.8" rx="3.6" ry="3.4"/>
<ellipse cx="528.6" cy="514.9" rx="3.6" ry="3.4"/>
<ellipse cx="499.0" cy="525.2" rx="3.6" ry="3.4"/>
<ellipse cx="503.1" cy="526.4" rx="3.6" ry="3.4"/>
<ellipse cx="561.7" cy="473.0" rx="3.6" ry="3.4"/>
<ellipse cx="566.2" cy="471.6" rx="3.6" ry="3.4"/>
<ellipse cx="572.7" cy="471.9" rx="3.6" ry="3.4"/>
<ellipse cx="586.0" cy="470.7" rx="3.6" ry="3.4"/>
<ellipse cx="569.4" cy="477.5" rx="3.6" ry="3.4"/>
<ellipse cx="573.6" cy="479.6" rx="3.6" ry="3.4"/>
<ellipse cx="560.3" cy="483.4" rx="3.6" ry="3.4"/>
<ellipse cx="576.6" cy="487.9" rx="3.6" ry="3.4"/>
<ellipse cx="579.5" cy="485.9" rx="3.6" ry="3.4"/>
<ellipse cx="595.8" cy="494.1" rx="3.6" ry="3.4"/>
<ellipse cx="542.0" cy="497.0" rx="3.6" ry="3.4"/>
<ellipse cx="543.5" cy="499.3" rx="3.6" ry="3.4"/>
<ellipse cx="548.7" cy="498.2" rx="3.6" ry="3.4"/>
<ellipse cx="568.7" cy="498.8" rx="3.6" ry="3.4"/>
<ellipse cx="571.7" cy="501.8" rx="3.6" ry="3.4"/>
<ellipse cx="582.8" cy="504.7" rx="3.6" ry="3.4"/>
<ellipse cx="587.2" cy="503.7" rx="3.6" ry="3.4"/>
<ellipse cx="600.3" cy="507.1" rx="3.6" ry="3.4"/>
<ellipse cx="612.4" cy="505.6" rx="3.6" ry="3.4"/>
<ellipse cx="613.6" cy="515.6" rx="3.6" ry="3.4"/>
<ellipse cx="542.5" cy="511.9" rx="3.6" ry="3.4"/>
<ellipse cx="542.5" cy="516.0" rx="3.6" ry="3.4"/>
<ellipse cx="549.9" cy="514.1" rx="3.6" ry="3.4"/>
<ellipse cx="558.3" cy="518.2" rx="3.6" ry="3.4"/>
<ellipse cx="566.2" cy="513.6" rx="3.6" ry="3.4"/>
<ellipse cx="568.7" cy="517.0" rx="3.6" ry="3.4"/>
<ellipse cx="572.7" cy="518.5" rx="3.6" ry="3.4"/>
<ellipse cx="575.1" cy="511.6" rx="3.6" ry="3.4"/>
<ellipse cx="585.7" cy="521.5" rx="3.6" ry="3.4"/>
<ellipse cx="540.6" cy="526.2" rx="3.6" ry="3.4"/>
<ellipse cx="525.1" cy="547.1" rx="3.6" ry="3.4"/>
<ellipse cx="521.7" cy="571.9" rx="3.6" ry="3.4"/>
<ellipse cx="506.9" cy="578.9" rx="3.6" ry="3.4"/>
<ellipse cx="565.0" cy="554.9" rx="3.6" ry="3.4"/>
<ellipse cx="616.1" cy="538.5" rx="3.6" ry="3.4"/>
<ellipse cx="610.5" cy="550.6" rx="3.6" ry="3.4"/>
<ellipse cx="545.0" cy="584.7" rx="3.6" ry="3.4"/>
</g>
<g id="B3">
<path d="M58.00,665.80 V823.00 H320.20" fill="none" stroke="#000" stroke-width="3.0" stroke-linejoin="miter" stroke-linecap="butt"/>
<line x1="58.00" y1="823.00" x2="58.00" y2="828.80" stroke="#000" stroke-width="2.4"/>
<line x1="101.50" y1="823.00" x2="101.50" y2="828.80" stroke="#000" stroke-width="2.4"/>
<line x1="145.00" y1="823.00" x2="145.00" y2="828.80" stroke="#000" stroke-width="2.4"/>
<line x1="188.50" y1="823.00" x2="188.50" y2="828.80" stroke="#000" stroke-width="2.4"/>
<line x1="232.00" y1="823.00" x2="232.00" y2="828.80" stroke="#000" stroke-width="2.4"/>
<line x1="275.50" y1="823.00" x2="275.50" y2="828.80" stroke="#000" stroke-width="2.4"/>
<line x1="319.00" y1="823.00" x2="319.00" y2="828.80" stroke="#000" stroke-width="2.4"/>
<line x1="58.00" y1="823.00" x2="52.20" y2="823.00" stroke="#000" stroke-width="2.4"/>
<text transform="translate(44.19,827.10) scale(1.0000,1)" font-size="12.14" font-weight="bold">0</text>
<line x1="58.00" y1="784.00" x2="52.20" y2="784.00" stroke="#000" stroke-width="2.4"/>
<text transform="translate(43.97,788.10) scale(1.0000,1)" font-size="12.32" font-weight="bold">5</text>
<line x1="58.00" y1="745.00" x2="52.20" y2="745.00" stroke="#000" stroke-width="2.4"/>
<text transform="translate(37.39,749.10) scale(1.0000,1)" font-size="12.14" font-weight="bold">10</text>
<line x1="58.00" y1="706.00" x2="52.20" y2="706.00" stroke="#000" stroke-width="2.4"/>
<text transform="translate(37.07,710.10) scale(1.0000,1)" font-size="12.32" font-weight="bold">15</text>
<line x1="58.00" y1="667.00" x2="52.20" y2="667.00" stroke="#000" stroke-width="2.4"/>
<text transform="translate(37.39,671.10) scale(1.0000,1)" font-size="12.14" font-weight="bold">20</text>
<text transform="translate(49.29,840.10) scale(1.0700,1)" font-size="11.71" font-weight="bold">0.0</text>
<text transform="translate(92.79,840.10) scale(1.0700,1)" font-size="11.71" font-weight="bold">0.2</text>
<text transform="translate(136.10,840.10) scale(1.0700,1)" font-size="11.71" font-weight="bold">0.4</text>
<text transform="translate(179.79,840.10) scale(1.0700,1)" font-size="11.71" font-weight="bold">0.6</text>
<text transform="translate(223.23,840.10) scale(1.0700,1)" font-size="11.71" font-weight="bold">0.8</text>
<text transform="translate(266.66,840.10) scale(1.0700,1)" font-size="11.71" font-weight="bold">1.0</text>
<text transform="translate(310.16,840.10) scale(1.0700,1)" font-size="11.71" font-weight="bold">1.2</text>
<text transform="translate(133.60,857.60) scale(1.0236,1)" font-size="13.89" font-weight="bold">Cytotoxicity <tspan dx="0.59">(</tspan><tspan dx="0.68">%</tspan><tspan dx="1.27">)</tspan></text>
<text transform="translate(28.90,827.11) rotate(-90) scale(0.8915,1)" font-size="14.31" font-weight="bold">CD3-CD56+ population <tspan dx="0.00">(</tspan><tspan dx="1.68">%</tspan><tspan dx="1.12">)</tspan></text>
<text class="ann" transform="translate(102.31,678.00) scale(1.0200,1)" font-size="13.86" word-spacing="1.08"><tspan font-style="italic">r</tspan> = 0.4194, <tspan font-style="italic">p</tspan> = 0.003</text>
<line x1="109.5" y1="823.0" x2="268.7" y2="772.4" stroke="#000" stroke-width="2.9"/>
<ellipse cx="90.1" cy="810.9" rx="3.6" ry="3.4"/>
<ellipse cx="152.6" cy="756.1" rx="3.6" ry="3.4"/>
<ellipse cx="171.6" cy="772.4" rx="3.6" ry="3.4"/>
<ellipse cx="147.9" cy="782.8" rx="3.6" ry="3.4"/>
<ellipse cx="144.4" cy="785.3" rx="3.6" ry="3.4"/>
<ellipse cx="145.2" cy="808.0" rx="3.6" ry="3.4"/>
<ellipse cx="155.6" cy="811.7" rx="3.6" ry="3.4"/>
<ellipse cx="151.4" cy="816.4" rx="3.6" ry="3.4"/>
<ellipse cx="164.1" cy="813.1" rx="3.6" ry="3.4"/>
<ellipse cx="170.4" cy="803.1" rx="3.6" ry="3.4"/>
<ellipse cx="174.5" cy="806.5" rx="3.6" ry="3.4"/>
<ellipse cx="178.0" cy="817.9" rx="3.6" ry="3.4"/>
<ellipse cx="233.4" cy="698.5" rx="3.6" ry="3.4"/>
<ellipse cx="263.3" cy="700.7" rx="3.6" ry="3.4"/>
<ellipse cx="265.3" cy="717.0" rx="3.6" ry="3.4"/>
<ellipse cx="261.6" cy="745.5" rx="3.6" ry="3.4"/>
<ellipse cx="263.5" cy="752.8" rx="3.6" ry="3.4"/>
<ellipse cx="264.4" cy="760.6" rx="3.6" ry="3.4"/>
<ellipse cx="225.6" cy="758.1" rx="3.6" ry="3.4"/>
<ellipse cx="218.9" cy="776.1" rx="3.6" ry="3.4"/>
<ellipse cx="221.9" cy="782.0" rx="3.6" ry="3.4"/>
<ellipse cx="227.5" cy="780.6" rx="3.6" ry="3.4"/>
<ellipse cx="219.2" cy="788.0" rx="3.6" ry="3.4"/>
<ellipse cx="251.2" cy="774.6" rx="3.6" ry="3.4"/>
<ellipse cx="191.9" cy="786.2" rx="3.6" ry="3.4"/>
<ellipse cx="194.9" cy="796.5" rx="3.6" ry="3.4"/>
<ellipse cx="236.4" cy="793.6" rx="3.6" ry="3.4"/>
<ellipse cx="246.7" cy="796.1" rx="3.6" ry="3.4"/>
<ellipse cx="267.0" cy="798.6" rx="3.6" ry="3.4"/>
<ellipse cx="189.9" cy="804.8" rx="3.6" ry="3.4"/>
<ellipse cx="192.1" cy="809.2" rx="3.6" ry="3.4"/>
<ellipse cx="190.8" cy="814.1" rx="3.6" ry="3.4"/>
<ellipse cx="193.0" cy="818.1" rx="3.6" ry="3.4"/>
<ellipse cx="198.8" cy="811.9" rx="3.6" ry="3.4"/>
<ellipse cx="199.7" cy="820.3" rx="3.6" ry="3.4"/>
<ellipse cx="207.7" cy="808.8" rx="3.6" ry="3.4"/>
<ellipse cx="211.7" cy="806.6" rx="3.6" ry="3.4"/>
<ellipse cx="215.7" cy="805.2" rx="3.6" ry="3.4"/>
<ellipse cx="220.1" cy="803.9" rx="3.6" ry="3.4"/>
<ellipse cx="222.3" cy="802.1" rx="3.6" ry="3.4"/>
<ellipse cx="229.9" cy="804.8" rx="3.6" ry="3.4"/>
<ellipse cx="237.4" cy="809.7" rx="3.6" ry="3.4"/>
<ellipse cx="209.4" cy="814.1" rx="3.6" ry="3.4"/>
<ellipse cx="215.7" cy="816.8" rx="3.6" ry="3.4"/>
<ellipse cx="222.3" cy="816.3" rx="3.6" ry="3.4"/>
<ellipse cx="224.1" cy="819.9" rx="3.6" ry="3.4"/>
</g>
<g id="B4">
<path d="M405.00,665.70 V823.00 H666.00" fill="none" stroke="#000" stroke-width="3.0" stroke-linejoin="miter" stroke-linecap="butt"/>
<line x1="405.00" y1="823.00" x2="405.00" y2="828.80" stroke="#000" stroke-width="2.4"/>
<line x1="448.30" y1="823.00" x2="448.30" y2="828.80" stroke="#000" stroke-width="2.4"/>
<line x1="491.60" y1="823.00" x2="491.60" y2="828.80" stroke="#000" stroke-width="2.4"/>
<line x1="534.90" y1="823.00" x2="534.90" y2="828.80" stroke="#000" stroke-width="2.4"/>
<line x1="578.20" y1="823.00" x2="578.20" y2="828.80" stroke="#000" stroke-width="2.4"/>
<line x1="621.50" y1="823.00" x2="621.50" y2="828.80" stroke="#000" stroke-width="2.4"/>
<line x1="664.80" y1="823.00" x2="664.80" y2="828.80" stroke="#000" stroke-width="2.4"/>
<line x1="405.00" y1="823.00" x2="399.20" y2="823.00" stroke="#000" stroke-width="2.4"/>
<text transform="translate(390.69,827.10) scale(1.0000,1)" font-size="12.14" font-weight="bold">0</text>
<line x1="405.00" y1="791.78" x2="399.20" y2="791.78" stroke="#000" stroke-width="2.4"/>
<text transform="translate(383.89,795.88) scale(1.0000,1)" font-size="12.14" font-weight="bold">10</text>
<line x1="405.00" y1="760.56" x2="399.20" y2="760.56" stroke="#000" stroke-width="2.4"/>
<text transform="translate(383.89,764.66) scale(1.0000,1)" font-size="12.14" font-weight="bold">20</text>
<line x1="405.00" y1="729.34" x2="399.20" y2="729.34" stroke="#000" stroke-width="2.4"/>
<text transform="translate(383.89,733.44) scale(1.0000,1)" font-size="12.14" font-weight="bold">30</text>
<line x1="405.00" y1="698.12" x2="399.20" y2="698.12" stroke="#000" stroke-width="2.4"/>
<text transform="translate(383.89,702.22) scale(1.0000,1)" font-size="12.14" font-weight="bold">40</text>
<line x1="405.00" y1="666.90" x2="399.20" y2="666.90" stroke="#000" stroke-width="2.4"/>
<text transform="translate(383.89,671.00) scale(1.0000,1)" font-size="12.14" font-weight="bold">50</text>
<text transform="translate(396.29,840.10) scale(1.0700,1)" font-size="11.71" font-weight="bold">0.0</text>
<text transform="translate(439.59,840.10) scale(1.0700,1)" font-size="11.71" font-weight="bold">0.2</text>
<text transform="translate(482.70,840.10) scale(1.0700,1)" font-size="11.71" font-weight="bold">0.4</text>
<text transform="translate(526.19,840.10) scale(1.0700,1)" font-size="11.71" font-weight="bold">0.6</text>
<text transform="translate(569.43,840.10) scale(1.0700,1)" font-size="11.71" font-weight="bold">0.8</text>
<text transform="translate(612.66,840.10) scale(1.0700,1)" font-size="11.71" font-weight="bold">1.0</text>
<text transform="translate(655.96,840.10) scale(1.0700,1)" font-size="11.71" font-weight="bold">1.2</text>
<text transform="translate(480.26,857.60) scale(1.0188,1)" font-size="13.89" font-weight="bold">Cytotoxicity <tspan dx="0.59">(</tspan><tspan dx="0.69">%</tspan><tspan dx="1.28">)</tspan></text>
<text transform="translate(375.60,828.71) rotate(-90) scale(0.8921,1)" font-size="14.31" font-weight="bold">CD3+CD56+ population <tspan dx="0.00">(</tspan><tspan dx="1.68">%</tspan><tspan dx="1.12">)</tspan></text>
<text class="ann" transform="translate(449.41,672.80) scale(1.0200,1)" font-size="13.86" word-spacing="0.93"><tspan font-style="italic">r</tspan> = 0.4442, <tspan font-style="italic">p</tspan> = 0.0016</text>
<line x1="436.0" y1="788.5" x2="615.2" y2="724.0" stroke="#000" stroke-width="2.9"/>
<ellipse cx="437.1" cy="767.2" rx="3.6" ry="3.4"/>
<ellipse cx="494.4" cy="723.1" rx="3.6" ry="3.4"/>
<ellipse cx="518.4" cy="739.0" rx="3.6" ry="3.4"/>
<ellipse cx="499.3" cy="754.5" rx="3.6" ry="3.4"/>
<ellipse cx="524.6" cy="754.6" rx="3.6" ry="3.4"/>
<ellipse cx="521.4" cy="763.3" rx="3.6" ry="3.4"/>
<ellipse cx="491.5" cy="771.7" rx="3.6" ry="3.4"/>
<ellipse cx="498.4" cy="768.4" rx="3.6" ry="3.4"/>
<ellipse cx="491.9" cy="783.8" rx="3.6" ry="3.4"/>
<ellipse cx="502.3" cy="792.7" rx="3.6" ry="3.4"/>
<ellipse cx="510.7" cy="788.3" rx="3.6" ry="3.4"/>
<ellipse cx="517.4" cy="793.6" rx="3.6" ry="3.4"/>
<ellipse cx="538.5" cy="684.5" rx="3.6" ry="3.4"/>
<ellipse cx="576.7" cy="683.0" rx="3.6" ry="3.4"/>
<ellipse cx="611.9" cy="684.8" rx="3.6" ry="3.4"/>
<ellipse cx="611.1" cy="695.5" rx="3.6" ry="3.4"/>
<ellipse cx="610.4" cy="701.9" rx="3.6" ry="3.4"/>
<ellipse cx="538.5" cy="705.3" rx="3.6" ry="3.4"/>
<ellipse cx="558.8" cy="703.8" rx="3.6" ry="3.4"/>
<ellipse cx="565.6" cy="705.6" rx="3.6" ry="3.4"/>
<ellipse cx="583.4" cy="700.7" rx="3.6" ry="3.4"/>
<ellipse cx="598.1" cy="708.2" rx="3.6" ry="3.4"/>
<ellipse cx="545.5" cy="727.0" rx="3.6" ry="3.4"/>
<ellipse cx="565.9" cy="723.3" rx="3.6" ry="3.4"/>
<ellipse cx="567.1" cy="729.0" rx="3.6" ry="3.4"/>
<ellipse cx="562.7" cy="730.7" rx="3.6" ry="3.4"/>
<ellipse cx="584.4" cy="720.7" rx="3.6" ry="3.4"/>
<ellipse cx="580.2" cy="739.0" rx="3.6" ry="3.4"/>
<ellipse cx="614.1" cy="738.1" rx="3.6" ry="3.4"/>
<ellipse cx="610.1" cy="744.1" rx="3.6" ry="3.4"/>
<ellipse cx="608.4" cy="752.1" rx="3.6" ry="3.4"/>
<ellipse cx="557.0" cy="749.6" rx="3.6" ry="3.4"/>
<ellipse cx="563.0" cy="745.9" rx="3.6" ry="3.4"/>
<ellipse cx="569.2" cy="747.4" rx="3.6" ry="3.4"/>
<ellipse cx="568.9" cy="755.3" rx="3.6" ry="3.4"/>
<ellipse cx="572.6" cy="754.8" rx="3.6" ry="3.4"/>
<ellipse cx="539.0" cy="755.6" rx="3.6" ry="3.4"/>
<ellipse cx="546.4" cy="761.9" rx="3.6" ry="3.4"/>
<ellipse cx="561.8" cy="767.7" rx="3.6" ry="3.4"/>
<ellipse cx="583.4" cy="766.7" rx="3.6" ry="3.4"/>
<ellipse cx="593.3" cy="768.1" rx="3.6" ry="3.4"/>
<ellipse cx="536.6" cy="770.4" rx="3.6" ry="3.4"/>
<ellipse cx="540.0" cy="777.8" rx="3.6" ry="3.4"/>
<ellipse cx="554.8" cy="776.3" rx="3.6" ry="3.4"/>
<ellipse cx="568.6" cy="775.1" rx="3.6" ry="3.4"/>
<ellipse cx="574.1" cy="770.8" rx="3.6" ry="3.4"/>
<ellipse cx="570.7" cy="781.9" rx="3.6" ry="3.4"/>
<ellipse cx="541.5" cy="799.3" rx="3.6" ry="3.4"/>
</g>
</svg></body></html>
